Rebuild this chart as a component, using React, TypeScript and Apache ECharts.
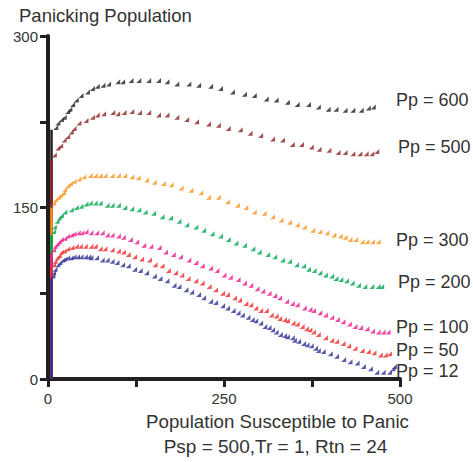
import React, { useEffect, useRef } from "react";
import * as echarts from "echarts";

const seriesNames = ["Pp = 600", "Pp = 500", "Pp = 300", "Pp = 200", "Pp = 100", "Pp = 50", "Pp = 12"];
const seriesColors = ["#231f20", "#8b2323", "#f7941d", "#00a651", "#ec1c8c", "#ee2a2a", "#2e3192"];
const startValues = [218, 191, 150, 126, 110, 97, 88];

const xTickLabels = [0, 250, 500];
const yTickLabels = [0, 150, 300];

const pp600 = [[11,220],[14,224],[19,227],[23,229],[28,234],[31,236],[35,240],[40,244],[47,248],[56,251],[63,254],[70,256],[78,257],[86,258],[99,260],[106,260],[118,261],[129,261],[143,261],[157,261],[169,260],[183,258],[200,258],[214,257],[231,256],[245,254],[262,251],[279,249],[293,248],[310,245],[324,244],[340,242],[354,240],[370,240],[384,238],[398,236],[409,236],[422,235],[433,235],[445,235],[455,237],[462,238]];
const pp500 = [[9,196],[14,202],[18,204],[23,209],[28,212],[33,216],[37,219],[44,224],[54,226],[63,229],[70,231],[79,232],[92,233],[99,232],[108,233],[119,234],[130,233],[143,233],[157,231],[169,231],[183,229],[197,227],[211,225],[228,223],[242,222],[256,219],[273,218],[287,215],[302,213],[319,210],[333,209],[347,205],[360,205],[374,203],[385,201],[399,200],[412,198],[422,198],[433,197],[443,197],[452,197],[460,197],[467,199]];
const pp300 = [[8,154],[11,157],[15,159],[18,161],[22,163],[24,166],[28,169],[32,171],[37,173],[44,175],[51,177],[60,178],[67,178],[74,178],[81,178],[91,178],[100,178],[109,178],[119,177],[128,176],[140,174],[151,172],[164,171],[175,170],[189,167],[203,165],[217,163],[228,159],[242,159],[255,155],[269,152],[281,150],[293,146],[307,145],[319,142],[331,139],[343,137],[354,135],[364,133],[376,130],[386,129],[396,128],[406,126],[415,125],[422,124],[429,122],[437,122],[446,120],[453,120],[461,120],[469,120]];
const pp200 = [[8,129],[9,133],[13,138],[16,141],[19,143],[24,146],[33,148],[40,150],[47,151],[54,153],[60,154],[67,154],[74,154],[84,152],[91,152],[100,152],[109,150],[119,149],[129,148],[138,146],[150,145],[162,142],[174,141],[186,138],[197,135],[210,133],[221,130],[233,127],[245,125],[256,122],[267,119],[279,117],[291,114],[300,111],[312,109],[322,107],[333,104],[343,103],[353,100],[363,99],[370,96],[378,95],[386,93],[394,91],[403,90],[409,88],[416,87],[424,86],[432,84],[441,82],[450,81],[460,81],[469,81],[474,81]];
const pp100 = [[8,113],[10,116],[13,118],[16,120],[19,122],[24,123],[28,125],[33,126],[37,127],[43,128],[48,128],[54,129],[61,128],[69,128],[77,128],[84,126],[91,126],[100,125],[107,124],[117,122],[126,120],[136,117],[146,116],[158,115],[167,111],[178,109],[188,107],[200,104],[210,102],[219,99],[231,97],[240,95],[250,91],[259,89],[270,87],[279,84],[288,82],[297,79],[305,77],[314,75],[322,73],[329,71],[339,68],[347,66],[354,65],[364,62],[372,61],[377,60],[386,58],[394,56],[403,54],[411,52],[419,50],[428,48],[436,46],[444,45],[453,44],[461,42],[469,41],[476,41],[483,41]];
const pp50 = [[8,100],[10,103],[13,106],[16,108],[19,111],[23,112],[28,114],[34,115],[40,116],[46,116],[53,116],[61,116],[67,116],[74,114],[81,114],[91,113],[100,112],[107,111],[114,109],[123,107],[133,105],[144,104],[152,100],[162,99],[171,95],[181,93],[190,91],[199,88],[210,86],[219,84],[229,81],[238,78],[248,75],[255,74],[265,71],[272,69],[281,66],[288,65],[295,62],[302,60],[310,60],[317,56],[324,55],[329,53],[336,52],[340,51],[348,49],[354,48],[361,46],[367,44],[372,43],[377,41],[384,39],[394,36],[403,34],[410,33],[419,31],[427,29],[436,27],[446,25],[455,24],[463,23],[472,21],[479,21],[485,22]];
const pp12 = [[7,90],[8,93],[10,96],[14,100],[17,102],[21,104],[24,105],[28,106],[33,106],[37,107],[42,107],[47,107],[53,107],[58,107],[61,106],[69,106],[77,104],[84,104],[91,103],[98,102],[106,100],[114,99],[123,96],[131,95],[140,93],[151,90],[159,88],[169,86],[179,82],[186,81],[196,78],[204,76],[214,74],[221,71],[231,68],[238,67],[248,64],[255,62],[263,60],[270,58],[276,56],[284,54],[290,52],[295,51],[302,49],[308,46],[314,45],[319,43],[324,41],[330,39],[336,38],[340,37],[347,36],[350,34],[356,33],[363,31],[368,30],[374,29],[380,27],[384,25],[391,24],[401,22],[410,20],[420,17],[429,15],[439,14],[448,11],[458,9],[467,6],[476,6],[485,6],[490,9],[492,11]];

const allSeries = [pp600, pp500, pp300, pp200, pp100, pp50, pp12];
const labelY = [100, 147, 240, 282, 327, 349.5, 370.5];

const FONT = "'Liberation Sans', Arial, sans-serif";
const AXIS = "#231f20";
const TEXT = "#333333";

export default function App() {
  const ref = useRef<HTMLDivElement>(null);
  useEffect(() => {
    if (!ref.current) return;
    const chart = echarts.init(ref.current, null, { renderer: "svg" });
    const series: any[] = [];
    allSeries.forEach((d, i) => {
      series.push({
        type: "line",
        name: seriesNames[i] + " start",
        data: [[5, 0], [5, startValues[i]]],
        symbol: "none",
        lineStyle: { color: seriesColors[i], width: 2.5 },
        silent: true,
        z: 2,
      });
    });
    allSeries.forEach((d, i) => {
      series.push({
        type: "scatter",
        name: seriesNames[i],
        data: d,
        symbol: "path://M4,0L4,4L0,4Z",
        symbolSize: 5,
        itemStyle: { color: seriesColors[i] },
        z: 3,
      });
    });
    const graphic: any[] = [
      {
        type: "text",
        left: 19,
        top: 6,
        style: { text: "Panicking Population", fontSize: 18.5, fontFamily: FONT, fill: TEXT },
      },
      {
        type: "text",
        x: 277.5,
        y: 421,
        style: { text: "Population Susceptible to Panic", fontSize: 18.7, fontFamily: FONT, fill: TEXT, textAlign: "center", textVerticalAlign: "middle" },
      },
      {
        type: "text",
        x: 275.5,
        y: 446,
        style: { text: "Psp = 500,Tr = 1, Rtn = 24", fontSize: 19, fontFamily: FONT, fill: TEXT, textAlign: "center", textVerticalAlign: "middle" },
      },
    ];
    seriesNames.forEach((n, i) => {
      graphic.push({
        type: "text",
        x: i === 1 || i === 3 ? 398 : 396,
        y: labelY[i],
        style: { text: n, fontSize: 18, fontFamily: FONT, fill: TEXT, textAlign: "left", textVerticalAlign: "middle" },
      });
    });
    chart.setOption({
      animation: false,
      backgroundColor: "#ffffff",
      grid: { left: 48, right: 73, top: 36, bottom: 83, containLabel: false },
      xAxis: {
        type: "value",
        min: 0,
        max: 500,
        interval: 125,
        axisLine: { show: true, lineStyle: { color: AXIS, width: 4 } },
        axisTick: { show: true, length: 8, lineStyle: { color: AXIS, width: 3 } },
        splitLine: { show: false },
        axisLabel: {
          margin: 12,
          fontSize: 15,
          fontFamily: FONT,
          color: TEXT,
          formatter: (v: number) => (xTickLabels.includes(v) ? String(v) : ""),
        },
      },
      yAxis: {
        type: "value",
        min: 0,
        max: 300,
        interval: 75,
        axisLine: { show: true, lineStyle: { color: AXIS, width: 4 } },
        axisTick: { show: true, length: 8, lineStyle: { color: AXIS, width: 3 } },
        splitLine: { show: false },
        axisLabel: {
          margin: 10,
          fontSize: 15,
          fontFamily: FONT,
          color: TEXT,
          formatter: (v: number) => (yTickLabels.includes(v) ? String(v) : ""),
        },
      },
      graphic,
      series,
    });
    return () => chart.dispose();
  }, []);
  return (
    <div
      ref={ref}
      style={{ position: "fixed", left: 0, top: 0, width: 473, height: 462, background: "#fff" }}
    />
  );
}
